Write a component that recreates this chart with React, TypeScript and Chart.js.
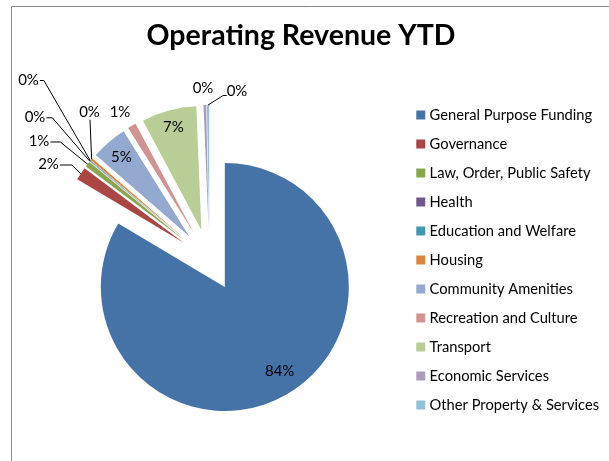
import React, { useEffect, useRef } from 'react';
import { Chart, registerables } from 'chart.js';

Chart.register(...registerables);

const chartTitle = 'Operating Revenue YTD';
const categories = [
  'General Purpose Funding',
  'Governance',
  'Law, Order, Public Safety',
  'Health',
  'Education and Welfare',
  'Housing',
  'Community Amenities',
  'Recreation and Culture',
  'Transport',
  'Economic Services',
  'Other Property & Services',
];
const revenueShare = [83.55, 1.7, 0.7, 0.05, 0.1, 0.3, 4.7, 1.1, 7.15, 0.35, 0.3];
const sliceColors = [
  '#4572A7',
  '#AA4643',
  '#89A54E',
  '#71588F',
  '#4198AF',
  '#DB843D',
  '#93A9CF',
  '#D19392',
  '#B9CD96',
  '#A99BBD',
  '#92C3D5',
];

// label layout (not data): inside = fraction of radius along the slice bisector,
// otherwise offsets from the pie centre with an optional leader line
type Place = {
  inside?: number;
  turn?: number;
  dx?: number;
  dy?: number;
  leader?: 'right' | 'left' | 'below';
  tail?: number;
  ly?: number;
};
const labelPlacement: Place[] = [
  { inside: 0.81, turn: -3.5 },
  { dx: -161, dy: -96, leader: 'right', tail: 12, ly: 1 },
  { dx: -170.5, dy: -119, leader: 'right', tail: 10, ly: 1 },
  { dx: -174.5, dy: -142.7, leader: 'right', tail: 6, ly: 0.5 },
  { dx: -181, dy: -180, leader: 'right', tail: 4, ly: 0.5 },
  { dx: -120, dy: -148.3, leader: 'below' },
  { inside: 0.845 },
  { dx: -89.5, dy: -148 },
  { inside: 0.86 },
  { dx: -6.5, dy: -171.7 },
  { dx: 27.5, dy: -169, leader: 'left', tail: 3.5, ly: 4.5 },
];

const EXPLODE = 31;
const LEGEND_FONT = 14.7;
const LEGEND_PAD = 14.3;
const LEGEND_BOX = 3;
const PIE_CENTER_X = 209.5;

const framePlugin = {
  id: 'frame',
  beforeDraw(chart: any) {
    const { ctx, width, height } = chart;
    ctx.save();
    ctx.fillStyle = '#ffffff';
    ctx.fillRect(0, 0, width, height);
    ctx.strokeStyle = '#878787';
    ctx.lineWidth = 1;
    ctx.beginPath();
    ctx.moveTo(11.5, height);
    ctx.lineTo(11.5, 6.5);
    ctx.lineTo(width, 6.5);
    ctx.stroke();
    ctx.fillStyle = '#000000';
    ctx.font = 'bold 28.5px Lato';
    ctx.textAlign = 'center';
    ctx.textBaseline = 'alphabetic';
    ctx.fillText(chartTitle, 301, 45);
    ctx.restore();
  },
};

const explodePlugin = {
  id: 'explode',
  beforeDatasetsDraw(chart: any) {
    const { chartArea } = chart;
    const cx = (chartArea.left + chartArea.right) / 2;
    const cy = (chartArea.top + chartArea.bottom) / 2;
    chart.getDatasetMeta(0).data.forEach((arc: any) => {
      const mid = (arc.startAngle + arc.endAngle) / 2;
      arc.x = cx + Math.cos(mid) * EXPLODE;
      arc.y = cy + Math.sin(mid) * EXPLODE;
    });
  },
};

const labelsPlugin = {
  id: 'sliceLabels',
  afterDatasetsDraw(chart: any) {
    const { ctx, chartArea } = chart;
    const cx = (chartArea.left + chartArea.right) / 2;
    const cy = (chartArea.top + chartArea.bottom) / 2;
    const total = revenueShare.reduce((a, b) => a + b, 0);
    ctx.save();
    ctx.font = '15px Lato';
    ctx.fillStyle = '#000000';
    ctx.strokeStyle = '#000000';
    ctx.lineWidth = 1;
    ctx.textAlign = 'center';
    ctx.textBaseline = 'middle';
    chart.getDatasetMeta(0).data.forEach((arc: any, i: number) => {
      const text = Math.round((revenueShare[i] / total) * 100) + '%';
      const p = labelPlacement[i];
      const mid = (arc.startAngle + arc.endAngle) / 2;
      const R = arc.outerRadius;
      if (p.inside !== undefined) {
        const a = mid + ((p.turn || 0) * Math.PI) / 180;
        ctx.fillText(text, arc.x + Math.cos(a) * R * p.inside, arc.y + Math.sin(a) * R * p.inside);
        return;
      }
      const tx = cx + (p.dx || 0);
      const ty = cy + (p.dy || 0);
      if (p.leader) {
        const ax = arc.x + Math.cos(mid) * R;
        const ay = arc.y + Math.sin(mid) * R;
        const w = ctx.measureText(text).width;
        ctx.beginPath();
        if (p.leader === 'right') {
          const ex = tx + w / 2 + 1;
          ctx.moveTo(ex, ty + (p.ly || 0));
          ctx.lineTo(ex + (p.tail || 0), ty + (p.ly || 0));
          ctx.lineTo(ax, ay);
        } else if (p.leader === 'left') {
          const ex = tx - w / 2;
          ctx.moveTo(ex, ty + (p.ly || 0));
          ctx.lineTo(ex - (p.tail || 0), ty + (p.ly || 0));
          ctx.lineTo(ax, ay);
        } else {
          ctx.moveTo(tx + 0.5, ty + 8);
          ctx.lineTo(ax, ay);
        }
        ctx.stroke();
      }
      ctx.fillText(text, tx, ty);
    });
    ctx.restore();
  },
};

export default function App() {
  const canvasRef = useRef<HTMLCanvasElement | null>(null);

  useEffect(() => {
    if (!canvasRef.current) return;
    Chart.defaults.font.family = 'Lato';
    Chart.defaults.color = '#000000';

    // legend sits against the right edge; left padding keeps the pie centred where wanted
    const mctx = document.createElement('canvas').getContext('2d') as CanvasRenderingContext2D;
    mctx.font = `${LEGEND_FONT}px Lato`;
    const maxText = Math.max(...categories.map((c) => mctx.measureText(c).width));
    const legendWidth = LEGEND_PAD + LEGEND_BOX + LEGEND_FONT / 2 + maxText + 10;
    const legendLeft = 609 - legendWidth;
    const leftPad = Math.max(0, 2 * PIE_CENTER_X - legendLeft);

    const pieLabels = (Chart as any).overrides.pie.plugins.legend.labels.generateLabels;
    const chart = new Chart(canvasRef.current, {
      type: 'pie',
      data: {
        labels: categories,
        datasets: [
          {
            data: revenueShare,
            backgroundColor: sliceColors,
            borderWidth: 0,
            radius: 124,
          } as any,
        ],
      },
      options: {
        animation: false,
        responsive: true,
        maintainAspectRatio: false,
        layout: { padding: { top: 59, left: leftPad, right: 0, bottom: 0 } },
        plugins: {
          title: { display: false },
          legend: {
            position: 'right',
            labels: {
              font: { family: 'Lato', size: LEGEND_FONT },
              color: '#000000',
              padding: LEGEND_PAD,
              boxWidth: LEGEND_BOX,
              boxHeight: LEGEND_BOX,
              generateLabels: (c: any) =>
                pieLabels(c).map((item: any) => ({
                  ...item,
                  strokeStyle: item.fillStyle,
                  lineWidth: 9 - LEGEND_BOX,
                  lineJoin: 'miter',
                })),
            },
          },
          tooltip: { enabled: false },
        },
      },
      plugins: [framePlugin, explodePlugin, labelsPlugin],
    });
    return () => chart.destroy();
  }, []);

  return (
    <div style={{ position: 'absolute', left: 0, top: 0, width: 609, height: 461, background: '#fff' }}>
      <canvas ref={canvasRef} />
    </div>
  );
}
